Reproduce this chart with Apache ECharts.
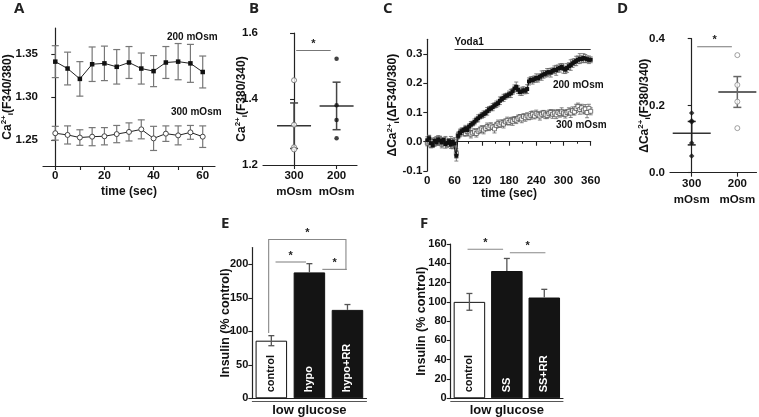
<!DOCTYPE html>
<html><head><meta charset="utf-8">
<script src="https://cdn.jsdelivr.net/npm/echarts@6/dist/echarts.min.js"></script>
<style>html,body{margin:0;padding:0;background:#fff}#c{width:759px;height:417px}</style>
</head><body><div id="c"></div>
<script>
// ---------- Panel A ----------
const aTime = [0,5,10,15,20,25,30,35,40,45,50,55,60];
const a200 = [1.341,1.333,1.321,1.338,1.339,1.335,1.340,1.333,1.330,1.340,1.341,1.339,1.329];
const a200Err = [0.0185,0.019,0.020,0.020,0.020,0.020,0.0185,0.018,0.018,0.0185,0.021,0.022,0.0185];
const a300 = [1.258,1.256,1.253,1.254,1.2545,1.257,1.2595,1.2625,1.252,1.2575,1.2555,1.259,1.254];
const a300Err = [0.008,0.0105,0.009,0.0105,0.010,0.010,0.0105,0.011,0.014,0.009,0.011,0.008,0.0125];
const aXTicks = [0,10,20,30,40,50,60];
const aXLabels = [0,20,40,60];
const aYTicks = [1.25,1.30,1.35];

// ---------- Panel B ----------
const bCats = ['300','200'];
const catUnit = 'mOsm';
const b300Pts = [1.457,1.322,1.254,1.247];
const b200Pts = [1.522,1.381,1.336,1.281];
const bMean = [1.319,1.379];
const bSem = [0.069,0.072];
const bSig = [0.05,1.547,0.86];

// ---------- Panel C ----------
const cTime = [
 0,4,8,12,16,20,24,28,32,36,
 40,44,48,52,56,60,64,68,72,76,
 80,84,88,92,96,100,104,108,112,116,
 120,124,128,132,136,140,144,148,152,156,
 160,164,168,172,176,180,184,188,192,196,
 200,204,208,212,216,220,224,228,232,236,
 240,244,248,252,256,260,264,268,272,276,
 280,284,288,292,296,300,304,308,312,316,
 320,324,328,332,336,340,344,348,352,356,
 360];
const c200 = [
 0.005,0.012,-0.005,-0.012,0.003,-0.002,0.008,0.004,-0.003,0.006,
 -0.008,-0.004,0.002,-0.010,0.000,-0.006,-0.048,0.020,0.030,0.036,
 0.040,0.046,0.040,0.052,0.058,0.062,0.068,0.075,0.080,0.086,
 0.090,0.094,0.098,0.104,0.110,0.114,0.118,0.124,0.128,0.132,
 0.140,0.146,0.150,0.155,0.158,0.162,0.165,0.172,0.182,0.188,
 0.178,0.170,0.172,0.176,0.174,0.180,0.206,0.212,0.210,0.214,
 0.218,0.216,0.222,0.226,0.230,0.232,0.236,0.238,0.236,0.242,
 0.246,0.244,0.250,0.252,0.256,0.250,0.246,0.252,0.258,0.262,
 0.268,0.272,0.276,0.280,0.284,0.282,0.286,0.284,0.282,0.280,
 0.280];
const c200Err = [
 0.012,0.010,0.014,0.008,0.011,0.009,0.013,0.010,0.012,0.008,
 0.014,0.011,0.009,0.013,0.010,0.012,0.018,0.010,0.009,0.011,
 0.008,0.010,0.012,0.009,0.011,0.008,0.010,0.009,0.012,0.008,
 0.010,0.011,0.009,0.013,0.010,0.008,0.012,0.009,0.011,0.010,
 0.013,0.009,0.012,0.010,0.008,0.011,0.014,0.010,0.012,0.016,
 0.013,0.011,0.014,0.012,0.010,0.015,0.012,0.010,0.013,0.011,
 0.014,0.012,0.010,0.016,0.013,0.011,0.014,0.012,0.015,0.010,
 0.013,0.017,0.012,0.014,0.011,0.016,0.013,0.015,0.012,0.018,
 0.014,0.012,0.016,0.013,0.017,0.012,0.015,0.014,0.011,0.013,
 0.010];
const c300 = [
 -0.004,0.008,-0.012,0.000,-0.006,0.004,-0.002,0.010,-0.008,0.002,
 0.006,-0.010,-0.002,0.004,-0.014,0.002,-0.040,0.022,0.030,0.036,
 0.032,0.028,0.034,0.030,0.026,0.030,0.034,0.028,0.036,0.040,
 0.044,0.040,0.046,0.052,0.048,0.054,0.050,0.044,0.056,0.062,
 0.058,0.064,0.060,0.068,0.072,0.066,0.072,0.070,0.076,0.074,
 0.080,0.084,0.078,0.086,0.082,0.088,0.084,0.090,0.094,0.088,
 0.096,0.092,0.088,0.094,0.098,0.092,0.090,0.096,0.100,0.094,
 0.098,0.092,0.100,0.096,0.102,0.098,0.094,0.100,0.104,0.098,
 0.106,0.102,0.114,0.120,0.110,0.116,0.108,0.112,0.100,0.114,
 0.104];
const c300Err = [
 0.010,0.013,0.009,0.012,0.010,0.014,0.011,0.009,0.013,0.010,
 0.012,0.009,0.011,0.014,0.010,0.012,0.016,0.011,0.013,0.010,
 0.012,0.009,0.011,0.010,0.013,0.008,0.011,0.012,0.009,0.010,
 0.011,0.013,0.009,0.012,0.010,0.011,0.008,0.014,0.010,0.012,
 0.009,0.011,0.013,0.010,0.012,0.009,0.011,0.014,0.010,0.012,
 0.011,0.009,0.013,0.010,0.012,0.011,0.009,0.013,0.011,0.010,
 0.012,0.010,0.014,0.011,0.009,0.013,0.011,0.012,0.010,0.014,
 0.011,0.013,0.010,0.012,0.014,0.011,0.013,0.010,0.012,0.015,
 0.013,0.011,0.014,0.012,0.016,0.012,0.013,0.015,0.018,0.014,
 0.012];
const cYTicks = [-0.1,0,0.1,0.2,0.3];
const yodaStart = 60, yodaEnd = 360, yodaLevel = 0.315;

// ---------- Panel D ----------
const dCats = ['300','200'];
const d300Pts = [0.178,0.155,0.151,0.089,0.050];
const d200Pts = [0.351,0.262,0.212,0.133];
const dMean = [0.118,0.241];
const dSem = [0.035,0.046];
const dSig = [0.12,0.376,0.88];

// ---------- Panel E ----------
const eCats = ['control','hypo','hypo+RR'];
const eVal = [86,188,132];
const eErr = [7.5,13,8];
const eYTicks = [0,50,100,150,200];
// [anchor, level, xFrom, xTo, leftEnd, rightEnd]
const eSig = [[0,237,-0.07,1.96,97.5,191.5],[0,203.5,0.11,0.91,203.5,203.5],[0,192.5,1.34,1.98,192.5,192.5]];

// ---------- Panel F ----------
const fCats = ['control','SS','SS+RR'];
const fVal = [100,132,104.5];
const fErr = [8.7,13,8.5];
const fSig = [[0,154.6,-0.05,0.9,154.6,154.6],[0,151,1.08,2.03,151,151]];

const barFill = ['#ffffff','#141414','#141414'];
const barText = ['#111111','#ffffff','#ffffff'];

const FONT = 'Liberation Sans, Arial, sans-serif';
const AX = '#222';
const B_YMIN = 1.2, D_YMIN = 0;

function st(color, lw){ return {stroke: color, lineWidth: lw, fill: null}; }

function errRender(capHalf, color, lw, lowerFn){
  return function(params, api){
    const x = api.value(0), y = api.value(1), e = api.value(2);
    const c = api.coord([x, y]);
    const t = api.coord([x, y + e]);
    const b = api.coord([x, y - e]);
    const lower = lowerFn ? lowerFn(params.dataIndex) : true;
    const ch = [
      {type:'line', shape:{x1:t[0], y1:t[1], x2:t[0], y2: lower ? b[1] : c[1]}, style: st(color, lw)},
      {type:'line', shape:{x1:t[0]-capHalf, y1:t[1], x2:t[0]+capHalf, y2:t[1]}, style: st(color, lw)}
    ];
    if (lower) ch.push({type:'line', shape:{x1:b[0]-capHalf, y1:b[1], x2:b[0]+capHalf, y2:b[1]}, style: st(color, lw)});
    return {type:'group', children: ch};
  };
}

function meanRender(halfW, capHalf, errColors){
  return function(params, api){
    const x = api.value(0), m = api.value(1), e = api.value(2);
    const c = api.coord([x, m]), t = api.coord([x, m + e]), b = api.coord([x, m - e]);
    const ec = errColors[params.dataIndex];
    return {type:'group', children:[
      {type:'line', shape:{x1:c[0]-halfW, y1:c[1], x2:c[0]+halfW, y2:c[1]}, style: st('#333', 1.5)},
      {type:'line', shape:{x1:t[0], y1:t[1], x2:b[0], y2:b[1]}, style: st(ec, 1.5)},
      {type:'line', shape:{x1:t[0]-capHalf, y1:t[1], x2:t[0]+capHalf, y2:t[1]}, style: st(ec, 1.5)},
      {type:'line', shape:{x1:b[0]-capHalf, y1:b[1], x2:b[0]+capHalf, y2:b[1]}, style: st(ec, 1.5)}
    ]};
  };
}

function catLabelRender(cats, yMin){
  return function(params, api){
    const i = params.dataIndex;
    const p = api.coord([api.value(0), yMin]);
    return {type:'group', children:[
      {type:'text', x:p[0], y:p[1] + 11, style:{text: cats[i], fontSize:11.5, fontWeight:'bold',
        fontFamily:FONT, fill:'#111', align:'center', verticalAlign:'middle'}},
      {type:'text', x:p[0], y:p[1] + 27, style:{text: catUnit, fontSize:11.5, fontWeight:'bold',
        fontFamily:FONT, fill:'#111', align:'center', verticalAlign:'middle'}}
    ]};
  };
}

function sigValueRender(params, api){
  const p1 = api.coord([api.value(0), api.value(1)]);
  const p2 = api.coord([api.value(2), api.value(1)]);
  return {type:'group', children:[
    {type:'line', shape:{x1:p1[0], y1:p1[1], x2:p2[0], y2:p2[1]}, style: st('#777', 1.2)},
    {type:'text', x:(p1[0]+p2[0])/2, y:p1[1]-1, style:{text:'*', fontSize:11, fontWeight:'bold', fontFamily:FONT, fill:'#222', align:'center', verticalAlign:'bottom'}}
  ]};
}

function sigCatRender(params, api){
  const base = api.coord([api.value(0), api.value(1)]);
  const bw = api.size([1, 0])[0];
  const x1 = base[0] + api.value(2) * bw;
  const x2 = base[0] + api.value(3) * bw;
  const yl = api.coord([0, api.value(4)])[1];
  const yr = api.coord([0, api.value(5)])[1];
  const yp = base[1];
  return {type:'group', children:[
    {type:'polyline', shape:{points:[[x1,yl],[x1,yp],[x2,yp],[x2,yr]]}, style: st('#888', 1.1)},
    {type:'text', x:(x1+x2)/2, y:yp-1, style:{text:'*', fontSize:11, fontWeight:'bold', fontFamily:FONT, fill:'#222', align:'center', verticalAlign:'bottom'}}
  ]};
}

const zip = (xs, ys) => xs.map((x, i) => [x, ys[i]]);
const zip3 = (xs, ys, es) => xs.map((x, i) => [x, ys[i], es[i]]);

const richName = {
  m: {fontSize: 12, fontWeight: 'bold', fontFamily: FONT, color: '#111', lineHeight: 15},
  sup: {fontSize: 8, fontWeight: 'bold', fontFamily: FONT, color: '#111', verticalAlign: 'top', lineHeight: 8},
  sub: {fontSize: 8, fontWeight: 'bold', fontFamily: FONT, color: '#111', verticalAlign: 'bottom', lineHeight: 8}
};

const lbl = {color:'#111', fontWeight:'bold', fontSize:11.5, fontFamily:FONT};
const lblE = {color:'#111', fontWeight:'bold', fontSize:11, fontFamily:FONT};
const axLine = {show:true, lineStyle:{color:AX, width:1.2}};
const tick = {show:true, length:4, lineStyle:{color:AX, width:1.1}};
const nameStyle = {fontSize:12, fontWeight:'bold', color:'#111', fontFamily:FONT};

const grids = [
  {left:43, top:28, width:172, height:138},
  {left:263, top:33, width:94, height:132},
  {left:427.3, top:39.3, width:163.4, height:131.7},
  {left:670, top:38.7, width:86.5, height:134},
  {left:252.3, top:247.6, width:114.2, height:150.7},
  {left:450.7, top:244, width:112.3, height:154.3}
].map(g => Object.assign({containLabel:false, outerBoundsMode:'none'}, g));

const xAxes = [
  {gridIndex:0, type:'value', min:-5, max:65, splitLine:{show:false}, axisLine:axLine,
   axisTick:Object.assign({customValues:aXTicks}, tick),
   axisLabel:Object.assign({customValues:aXLabels, margin:4}, lbl),
   name:'time (sec)', nameLocation:'middle', nameGap:20, nameMoveOverlap:false, nameTextStyle:nameStyle},
  {gridIndex:1, type:'value', min:-0.73, max:1.48, splitLine:{show:false}, axisLine:axLine,
   axisTick:Object.assign({customValues:[0,1]}, tick), axisLabel:{show:false}},
  {gridIndex:2, type:'value', min:0, max:360, interval:60, splitLine:{show:false}, axisLine:axLine,
   axisTick:tick, minorTick:{show:true, splitNumber:2, length:2, lineStyle:{color:AX}},
   axisLabel:Object.assign({margin:4}, lbl),
   name:'time (sec)', nameLocation:'middle', nameGap:17, nameMoveOverlap:false, nameTextStyle:nameStyle},
  {gridIndex:3, type:'value', min:-0.476, max:1.42, splitLine:{show:false}, axisLine:axLine,
   axisTick:Object.assign({customValues:[0,1]}, tick), axisLabel:{show:false}},
  {gridIndex:4, type:'category', data:eCats, axisLine:axLine, axisTick:{show:false}, axisLabel:{show:false},
   name:'low glucose', nameLocation:'middle', nameGap:6, nameMoveOverlap:false, nameTextStyle:Object.assign({}, nameStyle, {fontSize:13})},
  {gridIndex:5, type:'category', data:fCats, axisLine:axLine, axisTick:{show:false}, axisLabel:{show:false},
   name:'low glucose', nameLocation:'middle', nameGap:6, nameMoveOverlap:false, nameTextStyle:Object.assign({}, nameStyle, {fontSize:13})},
  {gridIndex:4, type:'category', data:eCats, position:'bottom', offset:3, axisLine:{show:true, lineStyle:{color:'#555', width:1}}, axisTick:{show:false}, axisLabel:{show:false}},
  {gridIndex:5, type:'category', data:fCats, position:'bottom', offset:3, axisLine:{show:true, lineStyle:{color:'#555', width:1}}, axisTick:{show:false}, axisLabel:{show:false}}
];

const yAxes = [
  {gridIndex:0, type:'value', min:1.22, max:1.38, splitLine:{show:false}, axisLine:axLine,
   axisTick:Object.assign({customValues:aYTicks}, tick),
   axisLabel:Object.assign({customValues:aYTicks, margin:5, formatter:v => v.toFixed(2)}, lbl),
   name:'{m|Ca}{sup|2+}{sub|i}{m|(F340/380)}', nameLocation:'middle', nameGap:28, nameMoveOverlap:false, nameTextStyle:{rich:richName}},
  {gridIndex:1, type:'value', min:B_YMIN, max:1.6, interval:0.2, splitLine:{show:false}, axisLine:axLine,
   axisTick:tick, axisLabel:Object.assign({margin:5, formatter:v => v.toFixed(1)}, lbl),
   name:'{m|Ca}{sup|2+}{sub|i}{m|(F380/340)}', nameLocation:'middle', nameGap:14, nameMoveOverlap:false, nameTextStyle:{rich:richName}},
  {gridIndex:2, type:'value', min:-0.1, max:0.35, splitLine:{show:false}, axisLine:axLine,
   axisTick:Object.assign({customValues:cYTicks}, tick),
   axisLabel:Object.assign({customValues:cYTicks, margin:5, formatter:v => v.toFixed(1)}, lbl),
   name:'{m|ΔCa}{sup|2+}{sub|i}{m|(ΔF340/380)}', nameLocation:'middle', nameGap:27, nameMoveOverlap:false, nameTextStyle:{rich:richName}},
  {gridIndex:3, type:'value', min:D_YMIN, max:0.4, interval:0.2, splitLine:{show:false}, axisLine:axLine,
   axisTick:tick, axisLabel:Object.assign({margin:5, formatter:v => v.toFixed(1)}, lbl),
   name:'{m|ΔCa}{sup|2+}{sub|i}{m|(F380/340)}', nameLocation:'middle', nameGap:18, nameMoveOverlap:false, nameTextStyle:{rich:richName}},
  {gridIndex:4, type:'value', min:0, max:225, splitLine:{show:false}, axisLine:axLine,
   axisTick:Object.assign({customValues:eYTicks}, tick),
   axisLabel:Object.assign({customValues:eYTicks, margin:4}, lblE),
   name:'Insulin (% control)', nameLocation:'middle', nameGap:20, nameMoveOverlap:false, nameTextStyle:Object.assign({}, nameStyle, {fontSize:12.5})},
  {gridIndex:5, type:'value', min:0, max:160, interval:20, splitLine:{show:false}, axisLine:axLine,
   axisTick:tick, axisLabel:Object.assign({margin:4}, lblE),
   name:'Insulin (% control)', nameLocation:'middle', nameGap:23, nameMoveOverlap:false, nameTextStyle:Object.assign({}, nameStyle, {fontSize:12.5})}
];

function barSeries(xi, cats, vals){
  return {type:'bar', xAxisIndex:xi, yAxisIndex:xi, barWidth:31.5, z:2,
    data: vals.map((v, i) => ({value:v, itemStyle:{color:barFill[i], borderColor:'#111', borderWidth:1},
      label:{color:barText[i]}})),
    label:{show:true, position:'insideBottom', rotate:90, align:'left', verticalAlign:'middle', distance:6,
      formatter:'{b}', fontSize:11, fontWeight:'bold', fontFamily:FONT}};
}

const series = [
  // A
  {type:'custom', xAxisIndex:0, yAxisIndex:0, renderItem:errRender(3.5,'#777',1.2), data:zip3(aTime,a200,a200Err), z:1},
  {type:'custom', xAxisIndex:0, yAxisIndex:0, renderItem:errRender(3.5,'#777',1.2), data:zip3(aTime,a300,a300Err), z:1},
  {type:'line', xAxisIndex:0, yAxisIndex:0, data:zip(aTime,a200), symbol:'rect', symbolSize:4.5,
   lineStyle:{color:'#222', width:1}, itemStyle:{color:'#111'}, z:3},
  {type:'line', xAxisIndex:0, yAxisIndex:0, data:zip(aTime,a300), symbol:'circle', symbolSize:5,
   lineStyle:{color:'#222', width:1}, itemStyle:{color:'#fff', borderColor:'#444', borderWidth:1}, z:3},
  // B
  {type:'custom', xAxisIndex:1, yAxisIndex:1, renderItem:meanRender(17,4,['#444','#444']), data:zip3([0,1],bMean,bSem), z:2},
  {type:'scatter', xAxisIndex:1, yAxisIndex:1, data:b300Pts.map(v => [0, v]), symbol:'circle', symbolSize:5,
   itemStyle:{color:'#fff', borderColor:'#666', borderWidth:1}, z:3},
  {type:'scatter', xAxisIndex:1, yAxisIndex:1, data:b200Pts.map(v => [1, v]), symbol:'circle', symbolSize:4.5,
   itemStyle:{color:'#111'}, z:3},
  {type:'custom', xAxisIndex:1, yAxisIndex:1, renderItem:sigValueRender, data:[bSig]},
  {type:'custom', xAxisIndex:1, yAxisIndex:1, clip:false, renderItem:catLabelRender(bCats, B_YMIN), data:[[0, B_YMIN],[1, B_YMIN]]},
  // C
  {type:'custom', xAxisIndex:2, yAxisIndex:2, renderItem:errRender(2,'#666',0.8), data:zip3(cTime,c300,c300Err), z:1},
  {type:'line', xAxisIndex:2, yAxisIndex:2, data:zip(cTime,c300), symbol:'rect', symbolSize:4,
   lineStyle:{color:'#555', width:0.8}, itemStyle:{color:'#fff', borderColor:'#555', borderWidth:0.8}, z:2},
  {type:'custom', xAxisIndex:2, yAxisIndex:2, renderItem:errRender(2,'#666',0.8), data:zip3(cTime,c200,c200Err), z:3},
  {type:'line', xAxisIndex:2, yAxisIndex:2, data:zip(cTime,c200), symbol:'rect', symbolSize:4,
   lineStyle:{color:'#111', width:1}, itemStyle:{color:'#111'}, z:4,
   markLine:{silent:true, symbol:'none', lineStyle:{color:'#333', type:'solid', width:1},
     label:{show:true, position:'insideStartTop', formatter:'Yoda1', color:'#111', fontSize:10, fontWeight:'bold', fontFamily:FONT, distance:[0,2]},
     data:[[{coord:[yodaStart, yodaLevel]},{coord:[yodaEnd, yodaLevel]}]]}},
  // D
  {type:'custom', xAxisIndex:3, yAxisIndex:3, renderItem:meanRender(19,4,['#222','#666']), data:zip3([0,1],dMean,dSem), z:2},
  {type:'scatter', xAxisIndex:3, yAxisIndex:3, data:d300Pts.map(v => [0, v]), symbol:'diamond', symbolSize:5.5,
   itemStyle:{color:'#111'}, z:3},
  {type:'scatter', xAxisIndex:3, yAxisIndex:3, data:d200Pts.map(v => [1, v]), symbol:'circle', symbolSize:5,
   itemStyle:{color:'#fff', borderColor:'#888', borderWidth:1}, z:3},
  {type:'custom', xAxisIndex:3, yAxisIndex:3, renderItem:sigValueRender, data:[dSig]},
  {type:'custom', xAxisIndex:3, yAxisIndex:3, clip:false, renderItem:catLabelRender(dCats, D_YMIN), data:[[0, D_YMIN],[1, D_YMIN]]},
  // E
  barSeries(4, eCats, eVal),
  {type:'custom', xAxisIndex:4, yAxisIndex:4, renderItem:errRender(3,'#555',1.3, i => barFill[i] === '#ffffff'),
   data:eVal.map((v, i) => [i, v, eErr[i]]), z:5},
  {type:'custom', xAxisIndex:4, yAxisIndex:4, renderItem:sigCatRender, data:eSig, z:5},
  // F
  barSeries(5, fCats, fVal),
  {type:'custom', xAxisIndex:5, yAxisIndex:5, renderItem:errRender(3,'#555',1.3, i => barFill[i] === '#ffffff'),
   data:fVal.map((v, i) => [i, v, fErr[i]]), z:5},
  {type:'custom', xAxisIndex:5, yAxisIndex:5, renderItem:sigCatRender, data:fSig, z:5}
];

const letter = (t, x, y) => ({type:'text', left:x, top:y, style:{text:t, fontSize:15, fontWeight:'bold', fontFamily:'Open Sans, Liberation Sans, sans-serif', fill:'#222'}});
const note = (t, x, y) => ({type:'text', left:x, top:y, style:{text:t, fontSize:10, fontWeight:'bold', fontFamily:FONT, fill:'#111'}});

const chart = echarts.init(document.getElementById('c'), null, {renderer:'canvas'});
chart.setOption({
  animation:false,
  backgroundColor:'#fff',
  textStyle:{fontFamily:FONT},
  grid:grids, xAxis:xAxes, yAxis:yAxes, series:series,
  graphic:[
    letter('A', 14, 1), letter('B', 249, 1), letter('C', 383, 1), letter('D', 617, 1),
    letter('E', 221, 216), letter('F', 420, 216),
    note('200 mOsm', 167, 32), note('300 mOsm', 171, 107),
    note('200 mOsm', 553, 80), note('300 mOsm', 556, 120)
  ]
});
</script>
</body></html>
